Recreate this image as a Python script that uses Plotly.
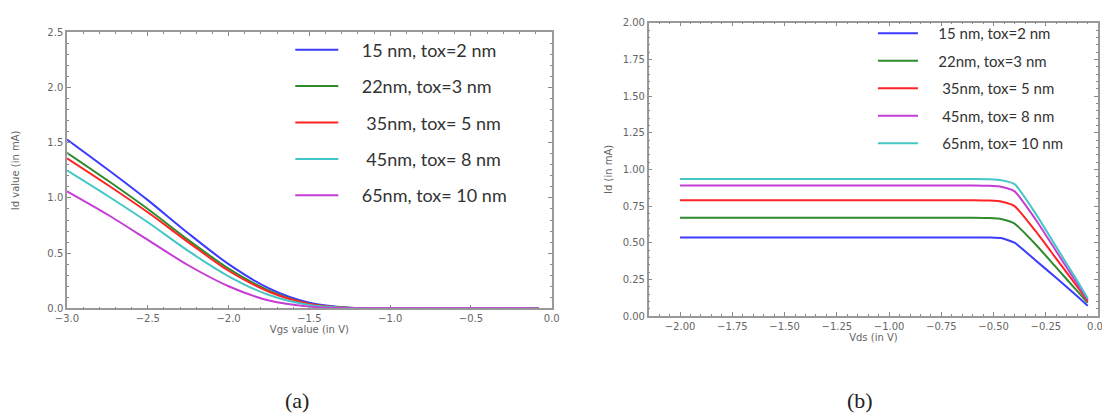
import plotly.graph_objects as go

# ---------------- data: panel (a) ----------------
vgs = [-3.0, -2.75, -2.5, -2.25, -2.0, -1.75, -1.5, -1.25, -1.0, -0.5, -0.08]
labels_a = ["\u00a0\u00a0\u00a0\u00a015 nm, tox=2 nm", "\u00a0\u00a0\u00a0\u00a022nm, tox=3 nm",
            "\u00a0\u00a0\u00a0\u00a0\u00a035nm, tox= 5 nm",
            "\u00a0\u00a0\u00a0\u00a0\u00a045nm, tox= 8 nm",
            "\u00a0\u00a0\u00a0\u00a065nm, tox= 10 nm"]
colors_a = ["#3c3cff", "#2e8b2e", "#ff2424", "#45c6c6", "#c63cd6"]
id_a_15 = [1.53, 1.26, 0.98, 0.68, 0.40, 0.18, 0.05, 0.005, 0.0, 0.0, 0.0]
id_a_22 = [1.41, 1.16, 0.90, 0.62, 0.36, 0.16, 0.04, 0.004, 0.0, 0.0, 0.0]
id_a_35 = [1.36, 1.12, 0.87, 0.60, 0.34, 0.15, 0.04, 0.003, 0.0, 0.0, 0.0]
id_a_45 = [1.25, 1.02, 0.78, 0.52, 0.29, 0.12, 0.03, 0.002, 0.0, 0.0, 0.0]
id_a_65 = [1.06, 0.85, 0.62, 0.39, 0.20, 0.07, 0.015, 0.001, 0.0, 0.0, 0.0]
series_a = [id_a_15, id_a_22, id_a_35, id_a_45, id_a_65]

# ---------------- data: panel (b) ----------------
vds = [-2.0, -1.0, -0.6, -0.52, -0.46, -0.4, -0.3, -0.2, -0.1, -0.05]
labels_b = ["\u00a0\u00a0\u00a0\u00a015 nm, tox=2 nm", "\u00a0\u00a0\u00a0\u00a022nm, tox=3 nm",
            "\u00a0\u00a0\u00a0\u00a0\u00a035nm, tox= 5 nm",
            "\u00a0\u00a0\u00a0\u00a0\u00a045nm, tox= 8 nm",
            "\u00a0\u00a0\u00a0\u00a0\u00a065nm, tox= 10 nm"]
colors_b = ["#3c3cff", "#2e8b2e", "#ff2424", "#c63cd6", "#45c6c6"]
id_b_15 = [0.536, 0.536, 0.536, 0.535, 0.53, 0.50, 0.38, 0.26, 0.135, 0.07]
id_b_22 = [0.67, 0.67, 0.67, 0.668, 0.66, 0.63, 0.49, 0.33, 0.17, 0.09]
id_b_35 = [0.79, 0.79, 0.79, 0.788, 0.78, 0.75, 0.58, 0.39, 0.20, 0.10]
id_b_45 = [0.89, 0.89, 0.89, 0.888, 0.88, 0.85, 0.66, 0.44, 0.22, 0.11]
id_b_65 = [0.935, 0.935, 0.935, 0.933, 0.925, 0.90, 0.70, 0.47, 0.24, 0.12]
series_b = [id_b_15, id_b_22, id_b_35, id_b_45, id_b_65]

fig = go.Figure()
for i, (ys, lab, col) in enumerate(zip(series_a, labels_a, colors_a)):
    fig.add_trace(go.Scatter(x=vgs, y=ys, mode="lines", name=lab,
                             line=dict(color=col, width=2, shape="spline", smoothing=0.8),
                             xaxis="x", yaxis="y", legend="legend",
                             legendgroup="a%d" % i))
for i, (ys, lab, col) in enumerate(zip(series_b, labels_b, colors_b)):
    fig.add_trace(go.Scatter(x=vds, y=ys, mode="lines", name=lab,
                             line=dict(color=col, width=2, shape="spline", smoothing=0.5),
                             xaxis="x2", yaxis="y2", legend="legend2",
                             legendgroup="b%d" % i))

W, H = 1110, 417
tickfont = dict(family="DejaVu Sans", size=10, color="#666666")
titlefont = dict(family="DejaVu Sans", size=10, color="#666666")
common = dict(showgrid=False, zeroline=False, showline=True, linecolor="#999999",
              linewidth=1.5, mirror="allticks", ticks="inside", ticklen=4,
              tickcolor="#888888", tickfont=tickfont)

fig.update_layout(
    width=W, height=H, margin=dict(l=0, r=0, t=0, b=0),
    paper_bgcolor="white", plot_bgcolor="white",
    xaxis=dict(domain=[48 / W, 543 / W], range=[-3.0, 0.0], dtick=0.5,
               tickformat=".1f", anchor="y",
               title=dict(text="Vgs value (in V)", font=titlefont, standoff=0),
               minor=dict(ticks="inside", dtick=0.1, ticklen=2, tickcolor="#888888"),
               **common),
    yaxis=dict(domain=[1 - 303 / H, 1 - 19 / H], range=[0, 2.5], dtick=0.5,
               tickformat=".1f", anchor="x",
               title=dict(text="Id value (in mA)", font=titlefont, standoff=26),
               minor=dict(ticks="inside", dtick=0.1, ticklen=2, tickcolor="#888888"),
               **common),
    xaxis2=dict(domain=[642 / W, 1101 / W], range=[-2.15, 0.0], dtick=0.25,
                tick0=0, tickformat=".2f", anchor="y2",
                title=dict(text="Vds (in V)", font=titlefont, standoff=0),
                minor=dict(ticks="inside", dtick=0.05, ticklen=2, tickcolor="#888888"),
                **common),
    yaxis2=dict(domain=[1 - 311 / H, 1 - 9 / H], range=[0, 2.0], dtick=0.25,
                tickformat=".2f", anchor="x2",
                title=dict(text="Id (in mA)", font=titlefont, standoff=8),
                minor=dict(ticks="inside", dtick=0.05, ticklen=2, tickcolor="#888888"),
                **common),
    legend=dict(x=276 / W, y=1 - 18 / H, xanchor="left", yanchor="top",
                bgcolor="rgba(0,0,0,0)", font=dict(family="Lato", size=18, color="#333333"),
                tracegroupgap=10, itemwidth=43),
    legend2=dict(x=871 / W, y=1 - 3 / H, xanchor="left", yanchor="top",
                 bgcolor="rgba(0,0,0,0)", font=dict(family="Lato", size=15, color="#333333"),
                 tracegroupgap=5, itemwidth=40),
    annotations=[
        dict(text="(a)", x=283 / W, y=1 - 398 / H, xref="paper", yref="paper",
             xanchor="center", yanchor="middle",
             showarrow=False, font=dict(family="Liberation Serif", size=22, color="#222222")),
        dict(text="(b)", x=858 / W, y=1 - 398 / H, xref="paper", yref="paper",
             xanchor="center", yanchor="middle",
             showarrow=False, font=dict(family="Liberation Serif", size=22, color="#222222")),
    ],
)

fig.write_html("out.html")
